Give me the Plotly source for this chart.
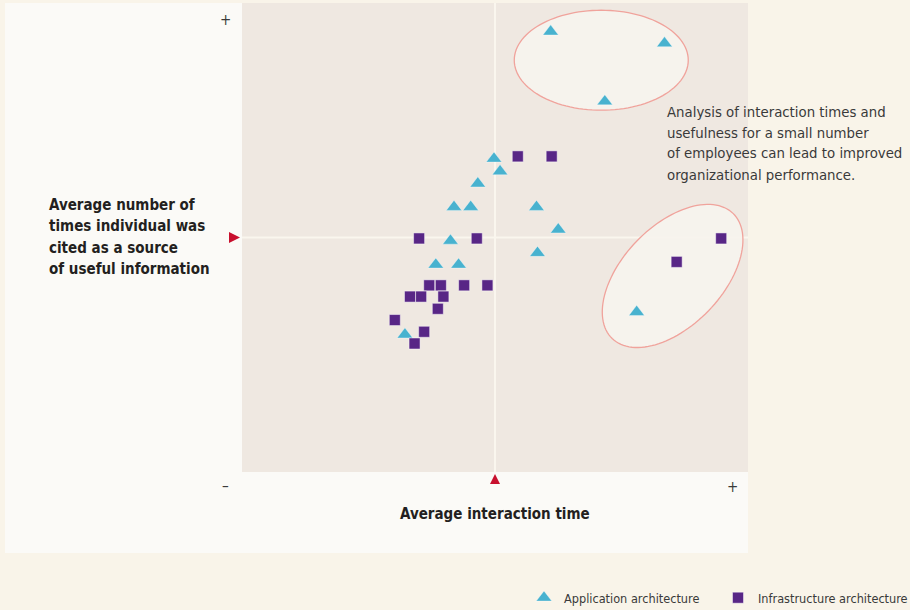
import math
import plotly.graph_objects as go

# ---------------- data ----------------
app_x = [4.98, 5.10, 4.66, 4.19, 4.52, 5.82, 6.25, 4.12, 5.84, 3.83, 4.28, 3.22, 6.10, 8.35, 7.17, 7.80]
app_y = [6.68, 6.41, 6.15, 5.65, 5.65, 5.65, 5.17, 4.93, 4.67, 4.42, 4.42, 2.93, 9.39, 9.14, 7.90, 3.41]

infra_x = [5.45, 6.12, 3.50, 4.64, 3.70, 3.93, 4.39, 4.85, 3.32, 3.54, 3.98, 3.87, 3.02, 3.60, 3.41, 9.47, 8.59]
infra_y = [6.73, 6.73, 4.98, 4.98, 3.98, 3.98, 3.98, 3.98, 3.74, 3.74, 3.74, 3.48, 3.24, 2.99, 2.74, 4.98, 4.48]

series_names = ["Application architecture", "Infrastructure architecture"]
x_title = "Average interaction time"
y_title_lines = ["Average number of", "times individual was", "cited as a source", "of useful information"]
note_lines = ["Analysis of interaction times and", "usefulness for a small number",
              "of employees can lead to improved", "organizational performance."]

# ellipse highlights: centre (data units), semi-axes (px), rotation (deg)
ell_cx = [7.10, 8.51]
ell_cy = [8.78, 4.18]
ell_a = [87, 87]
ell_b = [50, 50]
ell_rot = [0, 46]

# ---------------- layout geometry ----------------
W, H = 910, 610
ML, MR, MT, MB = 242, 162, 3, 138
PW, PH = W - ML - MR, H - MT - MB
XR = [0, 10]
YR = [0, 10]
ppx = PW / (XR[1] - XR[0])
ppy = PH / (YR[1] - YR[0])
XC = (XR[0] + XR[1]) / 2
YC = (YR[0] + YR[1]) / 2

FONT = "DejaVu Sans Condensed, Liberation Sans Narrow, Arial Narrow, sans-serif"
BLUE = "#48b2cf"
PURPLE = "#582686"
RED = "#c8102e"
TXT = "#231f20"
TXT2 = "#3a3a3a"

def px2paper_x(px):
    return (px - ML) / PW

def px2paper_y(py):
    return (H - MB - py) / PH

fig = go.Figure()

fig.add_trace(go.Scatter(
    x=app_x, y=app_y, mode="markers", name=series_names[0],
    marker=dict(symbol="triangle-up", size=13.5, color=BLUE,
                line=dict(width=0.6, color="rgba(255,255,255,0.6)")),
))
fig.add_trace(go.Scatter(
    x=infra_x, y=infra_y, mode="markers", name=series_names[1],
    marker=dict(symbol="square", size=11, color=PURPLE,
                line=dict(width=0.8, color="rgba(255,255,255,0.6)")),
))

shapes = []
# white panel behind chart
shapes.append(dict(type="rect", xref="paper", yref="paper", layer="below",
                   x0=px2paper_x(5), x1=1, y0=px2paper_y(553), y1=1,
                   fillcolor="#fbfaf7", line=dict(width=0)))
# plot area
shapes.append(dict(type="rect", xref="paper", yref="paper", layer="below",
                   x0=0, x1=1, y0=0, y1=1, fillcolor="#efe8e1", line=dict(width=0)))
# crosshair
shapes.append(dict(type="line", xref="x", yref="y", layer="below",
                   x0=XC, x1=XC, y0=YR[0], y1=YR[1], line=dict(color="#faf6ee", width=2)))
shapes.append(dict(type="line", xref="x", yref="y", layer="below",
                   x0=XR[0], x1=XR[1], y0=YC, y1=YC, line=dict(color="#faf6ee", width=2)))

# ellipses
for cx, cy, a, b, rot in zip(ell_cx, ell_cy, ell_a, ell_b, ell_rot):
    th = math.radians(rot)
    pts = []
    n = 120
    for i in range(n):
        t = 2 * math.pi * i / n
        dx = a * math.cos(t) * math.cos(th) - b * math.sin(t) * math.sin(th)
        dy = a * math.cos(t) * math.sin(th) + b * math.sin(t) * math.cos(th)
        pts.append((cx + dx / ppx, cy + dy / ppy))
    path = "M " + " L ".join(f"{x:.4f},{y:.4f}" for x, y in pts) + " Z"
    shapes.append(dict(type="path", xref="x", yref="y", layer="below", path=path,
                       fillcolor="rgba(246,243,238,0.92)", line=dict(color="#f0a39c", width=1.3)))

# red centre pointers (pixel-sized shapes anchored at the axis midpoints, paper refs so not clipped)
shapes.append(dict(type="path", xref="paper", yref="paper", xsizemode="pixel", ysizemode="pixel",
                   xanchor=0, yanchor=0.5, path="M -13,5.5 L -2,0 L -13,-5.5 Z",
                   fillcolor=RED, line=dict(width=0), layer="above"))
shapes.append(dict(type="path", xref="paper", yref="paper", xsizemode="pixel", ysizemode="pixel",
                   xanchor=0.5, yanchor=0, path="M -5,-12 L 0,-2 L 5,-12 Z",
                   fillcolor=RED, line=dict(width=0), layer="above"))

annotations = []
ytitle_y = [205, 226, 248, 269]
for s, py in zip(y_title_lines, ytitle_y):
    annotations.append(dict(xref="paper", yref="paper", x=px2paper_x(47), y=px2paper_y(py),
                            xanchor="left", yanchor="middle", align="left", showarrow=False,
                            text=f"<b>{s}</b>", font=dict(family=FONT, size=15, color=TXT)))
annotations.append(dict(xref="paper", yref="paper", x=0.5, y=px2paper_y(514),
                        xanchor="center", yanchor="middle", showarrow=False,
                        text=f"<b>{x_title}</b>", font=dict(family=FONT, size=15, color=TXT)))
note_y = [111, 132, 153, 174]
for s, py in zip(note_lines, note_y):
    annotations.append(dict(xref="paper", yref="paper", x=px2paper_x(665), y=px2paper_y(py),
                            xanchor="left", yanchor="middle", align="left", showarrow=False,
                            text=s, font=dict(family=FONT, size=14.8, color=TXT2)))
for txt, px, py in [("+", 225, 20), ("–", 225, 486), ("+", 732, 487)]:
    annotations.append(dict(xref="paper", yref="paper", x=px2paper_x(px), y=px2paper_y(py),
                            xanchor="center", yanchor="middle", showarrow=False, text=txt,
                            font=dict(family=FONT, size=15, color=TXT2)))

fig.update_layout(
    width=W, height=H,
    margin=dict(l=ML, r=MR, t=MT, b=MB, autoexpand=False),
    paper_bgcolor="#f9f4e9",
    plot_bgcolor="rgba(0,0,0,0)",
    xaxis=dict(range=XR, showgrid=False, zeroline=False, showticklabels=False, ticks="", fixedrange=True),
    yaxis=dict(range=YR, showgrid=False, zeroline=False, showticklabels=False, ticks="", fixedrange=True),
    shapes=shapes,
    annotations=annotations,
    showlegend=True,
    legend=dict(orientation="h", x=px2paper_x(524), xanchor="left",
                y=px2paper_y(598), yanchor="middle", bgcolor="rgba(0,0,0,0)",
                font=dict(family=FONT, size=12.6, color=TXT2), itemwidth=30,
                entrywidth=149, entrywidthmode="pixels"),
    font=dict(family=FONT),
)

fig.write_html("out.html", config={"displayModeBar": False},
               post_script="document.body.style.margin='0';document.body.style.padding='0';")
